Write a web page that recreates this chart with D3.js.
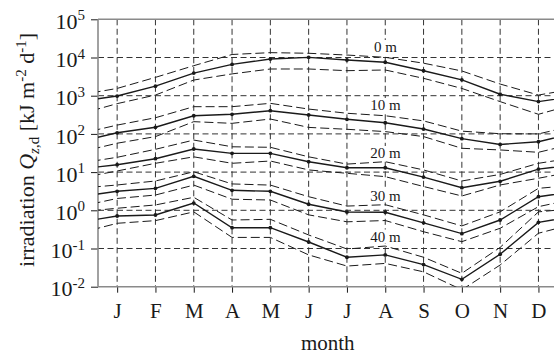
<!DOCTYPE html>
<html>
<head>
<meta charset="utf-8">
<script src="https://cdn.jsdelivr.net/npm/d3@7/dist/d3.min.js"></script>
<style>
  html, body { margin: 0; padding: 0; background: #fff; }
  svg { display: block; }
  svg text { font-family: "Liberation Serif", "Times New Roman", serif; }
</style>
</head>
<body>
<svg id="chart" width="554" height="354"></svg>
<script>
// Monthly irradiation at five depths: mean (solid) with upper/lower envelopes (dashed)
const months = ["J", "F", "M", "A", "M", "J", "J", "A", "S", "O", "N", "D"];
const depthLabels = ["0 m", "10 m", "20 m", "30 m", "40 m"];
const yTickExponents = [-2, -1, 0, 1, 2, 3, 4, 5];

const mean0  = [980, 1780, 3900, 6600, 9100, 10100, 8600, 7500, 4500, 2600, 1090, 700];
const upper0 = [1550, 3020, 6100, 12000, 13400, 12900, 11600, 10100, 7100, 4440, 2020, 1040];
const lower0 = [620, 1040, 2570, 3720, 5000, 5000, 4520, 4710, 2850, 1550, 700, 326];

const mean10  = [107, 149, 299, 326, 405, 313, 241, 196, 134, 75, 53, 62.5];
const upper10 = [170, 265, 516, 516, 631, 447, 347, 299, 219, 118, 101, 100];
const lower10 = [57, 85, 209, 189, 245, 148, 132, 115, 85, 42, 38, 33];

const mean20  = [15.6, 22.4, 40.3, 31.0, 31.0, 18.7, 13.0, 13.0, 7.4, 3.9, 5.75, 12.0];
const upper20 = [24.4, 39.5, 69, 46, 44.6, 25.1, 16.2, 18.7, 11.4, 5.85, 8.7, 17];
const lower20 = [10.7, 17, 25.1, 17, 19.5, 11.4, 9.3, 7.6, 4.2, 2.37, 4.6, 6.9];

const mean30  = [3.14, 3.76, 7.76, 3.34, 3.14, 1.44, 0.90, 0.89, 0.47, 0.245, 0.557, 2.27];
const upper30 = [4.6, 5.85, 10.2, 4.9, 4.57, 2.27, 1.29, 1.40, 0.76, 0.39, 0.91, 3.76];
const lower30 = [2.04, 2.51, 4.57, 1.95, 1.86, 0.76, 0.50, 0.54, 0.275, 0.151, 0.339, 1.245];

const mean40  = [0.71, 0.753, 1.55, 0.35, 0.35, 0.148, 0.059, 0.068, 0.038, 0.0156, 0.0708, 0.484];
const upper40 = [1.13, 1.38, 2.19, 0.557, 0.58, 0.226, 0.097, 0.116, 0.059, 0.0224, 0.107, 0.91];
const lower40 = [0.457, 0.537, 0.91, 0.195, 0.195, 0.068, 0.0347, 0.0407, 0.0245, 0.0083, 0.037, 0.251];

const groups = [
  { label: depthLabels[0], mean: mean0,  upper: upper0,  lower: lower0 },
  { label: depthLabels[1], mean: mean10, upper: upper10, lower: lower10 },
  { label: depthLabels[2], mean: mean20, upper: upper20, lower: lower20 },
  { label: depthLabels[3], mean: mean30, upper: upper30, lower: lower30 },
  { label: depthLabels[4], mean: mean40, upper: upper40, lower: lower40 }
];

// ---- layout ----
const serif = "'Liberation Serif', 'Times New Roman', serif";
const plot = { left: 98, top: 19.3, bottom: 286.7, monthStep: 38.3 };
plot.right = plot.left + 12 * plot.monthStep;

const svg = d3.select("#chart");

const x = d3.scaleLinear().domain([0.5, 12.5]).range([plot.left, plot.right]);
const y = d3.scaleLog().domain([1e-2, 1e5]).range([plot.bottom, plot.top]);

const ink = "#1a1a1a";
const gridColor = "#333";
const frameColor = "#8a8a8a";

svg.append("defs").append("clipPath").attr("id", "plotClip")
  .append("rect")
  .attr("x", plot.left).attr("y", plot.top)
  .attr("width", plot.right - plot.left).attr("height", plot.bottom - plot.top);

// ---- grid ----
const grid = svg.append("g");
grid.selectAll("line.h")
  .data(yTickExponents.slice(1, -1))
  .join("line")
  .attr("x1", plot.left).attr("x2", plot.right)
  .attr("y1", e => y(Math.pow(10, e))).attr("y2", e => y(Math.pow(10, e)))
  .attr("stroke", gridColor).attr("stroke-width", 1).attr("stroke-dasharray", "6,3.5");
grid.selectAll("line.v")
  .data(d3.range(1, 13))
  .join("line")
  .attr("x1", m => x(m)).attr("x2", m => x(m))
  .attr("y1", plot.top).attr("y2", plot.bottom)
  .attr("stroke", gridColor).attr("stroke-width", 1).attr("stroke-dasharray", "6,3.5");

// ---- axes ----
const yAxis = d3.axisLeft(y)
  .tickValues(yTickExponents.map(e => Math.pow(10, e)))
  .tickSize(7)
  .tickFormat("");
const yAxisG = svg.append("g").attr("transform", `translate(${plot.left},0)`).call(yAxis)
  .attr("font-family", serif);
yAxisG.select(".domain").remove();
yAxisG.selectAll(".tick line").attr("stroke", ink).attr("stroke-width", 1);
yAxisG.selectAll(".tick").each(function (d) {
  const t = d3.select(this).append("text")
    .attr("x", -13).attr("y", 9.2)
    .attr("text-anchor", "end")
    .attr("fill", ink)
    .style("font-family", serif)
    .style("font-size", "22px");
  t.append("tspan").text("10");
  t.append("tspan").attr("dy", -8.7).style("font-size", "15px").text(String(Math.round(Math.log10(d))));
});

const xAxis = d3.axisBottom(x)
  .tickValues(d3.range(1, 13))
  .tickSize(6)
  .tickFormat((m) => months[m - 1]);
const xAxisG = svg.append("g").attr("transform", `translate(0,${plot.bottom})`).call(xAxis)
  .attr("font-family", serif);
xAxisG.select(".domain").remove();
xAxisG.selectAll(".tick line").attr("stroke", ink).attr("stroke-width", 1);
xAxisG.selectAll(".tick text")
  .attr("y", 31.5).attr("dy", null)
  .attr("fill", ink)
  .style("font-size", "21px")
  .style("font-family", serif);

// frame: left, bottom and top edges
const frame = svg.append("g").attr("stroke", frameColor).attr("stroke-width", 1.6).attr("fill", "none");
frame.append("line").attr("x1", plot.left).attr("x2", plot.left).attr("y1", plot.top).attr("y2", plot.bottom);
frame.append("line").attr("x1", plot.left).attr("x2", plot.right).attr("y1", plot.bottom).attr("y2", plot.bottom);
frame.append("line").attr("x1", plot.left).attr("x2", plot.right).attr("y1", plot.top).attr("y2", plot.top);

// ---- series ----
// The year wraps: December precedes January and January follows December.
function cyclic(values) {
  const pts = values.map((v, i) => [i + 1, v]);
  return [[0, values[11]], ...pts, [13, values[0]]];
}
const line = d3.line().x(d => x(d[0])).y(d => y(d[1]));

const series = svg.append("g").attr("clip-path", "url(#plotClip)");
groups.forEach(g => {
  [g.upper, g.lower].forEach(vals => {
    series.append("path")
      .attr("d", line(cyclic(vals)))
      .attr("fill", "none").attr("stroke", ink)
      .attr("stroke-width", 1).attr("stroke-dasharray", "9,4");
  });
  series.append("path")
    .attr("d", line(cyclic(g.mean)))
    .attr("fill", "none").attr("stroke", ink).attr("stroke-width", 1.4);
  series.selectAll(null)
    .data(g.mean)
    .join("circle")
    .attr("cx", (v, i) => x(i + 1)).attr("cy", v => y(v))
    .attr("r", 1.9).attr("fill", ink);
});

// ---- depth labels ----
const labelX = 385.5;
const labelBaselines = [52, 110, 158, 200.5, 241.5];
const labels = svg.append("g");
groups.forEach((g, i) => {
  const t = labels.append("text")
    .attr("x", labelX).attr("y", labelBaselines[i])
    .attr("text-anchor", "middle")
    .attr("fill", ink)
    .style("font-family", serif)
    .style("font-size", "15px")
    .text(g.label);
  const bb = t.node().getBBox();
  labels.insert("rect", () => t.node())
    .attr("x", bb.x - 1).attr("y", bb.y + 1)
    .attr("width", bb.width + 2).attr("height", bb.height - 2)
    .attr("fill", "#fff");
});

// ---- axis titles ----
svg.append("text")
  .attr("x", (plot.left + plot.right) / 2).attr("y", 350)
  .attr("text-anchor", "middle")
  .attr("fill", ink)
  .style("font-family", serif)
  .style("font-size", "21px")
  .text("month");

const yTitle = svg.append("text")
  .attr("transform", `translate(33.5,${(plot.top + plot.bottom) / 2 - 3}) rotate(-90)`)
  .attr("text-anchor", "middle")
  .attr("fill", ink)
  .style("font-family", serif)
  .style("font-size", "22px");
yTitle.append("tspan").text("irradiation ");
yTitle.append("tspan").style("font-style", "italic").text("Q");
yTitle.append("tspan").attr("dy", 5).style("font-size", "15px").style("font-style", "italic").text("z");
yTitle.append("tspan").style("font-size", "15px").text(",d");
yTitle.append("tspan").attr("dy", -5).text(" [kJ m");
yTitle.append("tspan").attr("dy", -8).style("font-size", "15px").text("-2");
yTitle.append("tspan").attr("dy", 8).text(" d");
yTitle.append("tspan").attr("dy", -8).style("font-size", "15px").text("-1");
yTitle.append("tspan").attr("dy", 8).text("]");
</script>
</body>
</html>
